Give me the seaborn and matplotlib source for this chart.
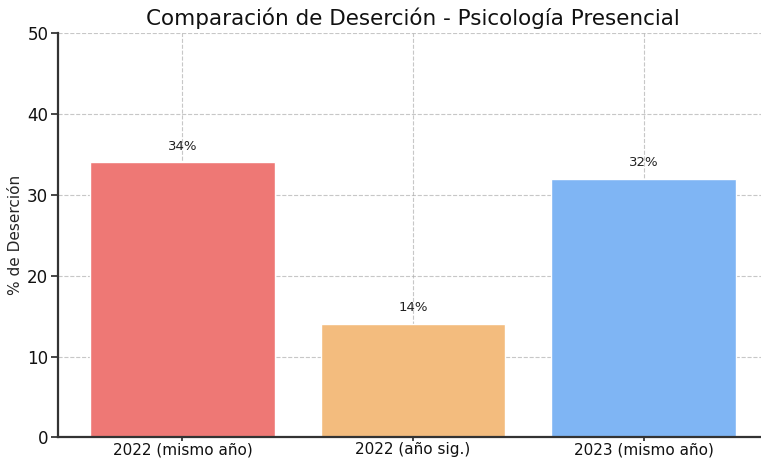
import pandas as pd
import seaborn as sns
import matplotlib.pyplot as plt

# datos de desercion
categorias = ['2022 (mismo año)', '2022 (año sig.)', '2023 (mismo año)']
desercion = [34, 14, 32]
colores = ['#EE7875', '#F3BC7E', '#7FB5F4']

df = pd.DataFrame({'Periodo': categorias, 'Desercion': desercion})

sns.set_style('white')
plt.rcParams['font.family'] = ['DejaVu Sans']

fig = plt.figure(figsize=(7.61, 4.59), dpi=100)
ax = fig.add_axes([0.0762, 0.047, 0.933, 0.881])

sns.barplot(data=df, x='Periodo', y='Desercion', hue='Periodo',
            palette=colores, saturation=1, legend=False, width=0.8, ax=ax)

ax.set_xlim(-0.54, 2.54)
ax.set_ylim(0, 50)
ax.set_yticks(range(0, 51, 10))
ax.grid(True, linestyle='--', color='#b0b0b0', alpha=0.7, linewidth=0.8)
for b in ax.patches:
    b.set_zorder(1)

for i, v in enumerate(desercion):
    ax.text(i, v + 1.2, f'{v}%', ha='center', va='bottom', fontsize=9.5, color='#222222')

ax.set_title('Comparación de Deserción - Psicología Presencial', fontsize=15.5, pad=6, color='#111111')
ax.set_ylabel('% de Deserción', fontsize=11, labelpad=3)
ax.set_xlabel('')
ax.tick_params(axis='x', labelsize=11, length=3, width=1.2, bottom=True, pad=0.5, labelcolor='#111111')
ax.tick_params(axis='y', labelsize=12, length=5, width=1.2, left=True, pad=2, labelcolor='#111111')

sns.despine(ax=ax)
ax.spines['left'].set_linewidth(1.6)
ax.spines['bottom'].set_linewidth(1.6)
ax.spines['left'].set_color('#333333')
ax.spines['bottom'].set_color('#333333')

fig.savefig('out.png', dpi=100)
